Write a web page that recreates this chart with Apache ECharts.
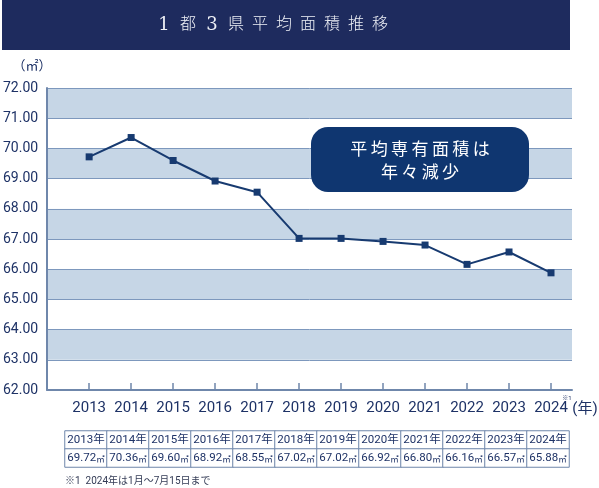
<!DOCTYPE html>
<html><head><meta charset="utf-8">
<script src="https://cdn.jsdelivr.net/npm/echarts@6/dist/echarts.min.js"></script>
<style>html,body{margin:0;padding:0;background:#fff}#c{width:599px;height:488px}</style>
</head><body><div id="c"></div>
<script>
const years = [2013, 2014, 2015, 2016, 2017, 2018, 2019, 2020, 2021, 2022, 2023, 2024];
const areas = [69.72, 70.36, 69.60, 68.92, 68.55, 67.02, 67.02, 66.92, 66.80, 66.16, 66.57, 65.88];
const yMin = 62, yMax = 72, yStep = 1;
const tableHeaders = years.map(y => y + '年');
const tableValues = areas.map(v => v.toFixed(2));
const unitText = '㎡';
const titleChars = ['1', '都', '3', '県', '平', '均', '面', '積', '推', '移'];
const calloutText = ['平均専有面積は', '年々減少'];
const footnote = '※1  2024年は1月～7月15日まで';

const NAVY = '#1e3266';
const LINE = '#173a70';
const AXIS = '#6f87ab';
const FONT = 'Roboto, "Noto Sans CJK JP", sans-serif';
const spaced = s => s.split('').join('\u2009');

const chart = echarts.init(document.getElementById('c'));
const tableData = [];
years.forEach((y, i) => {
  tableData.push([i, 1, 1]);
  tableData.push([i, 0, 0]);
});

const titleGraphics = titleChars.map((c, i) => ({
  type: 'text', x: 164 + 24 * i, y: 25, z: 2,
  style: {
    text: c, fill: '#eef0f6', fontSize: /[0-9]/.test(c) ? 18 : 16, fontWeight: 300,
    fontFamily: '"DejaVu Serif", "Noto Sans CJK JP", serif', align: 'center', verticalAlign: 'middle'
  }
}));

chart.setOption({
  animation: false,
  textStyle: { fontFamily: FONT },
  grid: [
    { left: 47, right: 27, top: 88, bottom: 98 },
    { left: 65, right: 30, top: 431, bottom: 21 }
  ],
  xAxis: [
    {
      type: 'value', gridIndex: 0, min: 2012, max: 2024.5, interval: 1,
      axisLine: { show: true, onZero: false, lineStyle: { color: AXIS, width: 2 } },
      axisTick: { show: true, inside: true, length: 7, customValues: years, lineStyle: { color: AXIS, width: 1.5 } },
      axisLabel: { customValues: years, color: NAVY, fontSize: 15, margin: 11, formatter: v => String(v) },
      splitLine: { show: false }
    },
    { type: 'category', gridIndex: 1, data: tableHeaders, show: false }
  ],
  yAxis: [
    {
      type: 'value', gridIndex: 0, min: yMin, max: yMax, interval: yStep,
      axisLine: { show: true, onZero: false, lineStyle: { color: AXIS, width: 2 } },
      axisTick: { show: false },
      axisLabel: { color: NAVY, fontSize: 14, margin: 9, formatter: v => v.toFixed(2) },
      splitLine: { show: true, lineStyle: { color: '#7d98bd', width: 1 } },
      splitArea: { show: true, areaStyle: { color: ['#ffffff', '#c6d6e6'] } }
    },
    { type: 'category', gridIndex: 1, data: ['value', 'year'], show: false }
  ],
  series: [
    {
      type: 'line', xAxisIndex: 0, yAxisIndex: 0,
      data: years.map((y, i) => [y, areas[i]]),
      symbol: 'rect', symbolSize: 7,
      lineStyle: { color: LINE, width: 2 },
      itemStyle: { color: LINE },
      emphasis: { disabled: true }, z: 5
    },
    {
      type: 'heatmap', xAxisIndex: 1, yAxisIndex: 1,
      data: tableData,
      itemStyle: { color: '#ffffff', borderColor: AXIS, borderWidth: 1 },
      label: {
        show: true, color: NAVY, fontSize: 11.5, fontFamily: FONT,
        formatter: p => p.value[1] === 1 ? tableHeaders[p.value[0]] : '{n|' + tableValues[p.value[0]] + '}{u|' + unitText + '}',
        rich: {
          n: { color: NAVY, fontSize: 11.5, fontFamily: FONT },
          u: { color: NAVY, fontSize: 8.5, fontFamily: FONT, verticalAlign: 'bottom' }
        }
      },
      emphasis: { disabled: true }
    }
  ],
  graphic: [
    { type: 'rect', shape: { x: 2, y: 0, width: 568, height: 50 }, style: { fill: '#1e2b5e' }, silent: true, z: 1 },
    ...titleGraphics,
    { type: 'text', x: 32, y: 67, style: { text: '（㎡）', fill: NAVY, fontSize: 13, fontFamily: FONT, align: 'center', verticalAlign: 'middle' } },
    { type: 'text', x: 585, y: 409, style: { text: '(年)', fill: NAVY, fontSize: 15, fontFamily: FONT, align: 'center', verticalAlign: 'middle' } },
    { type: 'text', x: 567, y: 398, style: { text: '※1', fill: NAVY, fontSize: 6, fontFamily: FONT, align: 'center', verticalAlign: 'middle' } },
    { type: 'text', x: 65, y: 481, style: { text: footnote, fill: '#333b55', fontSize: 10, fontFamily: FONT, align: 'left', verticalAlign: 'middle' } },
    { type: 'rect', shape: { x: 311, y: 127, width: 218, height: 65, r: 17 }, style: { fill: '#0f3670' }, z: 10 },
    { type: 'text', x: 420, y: 160, z: 11, style: { text: calloutText.map(spaced).join('\n'), fill: '#ffffff', fontSize: 17, lineHeight: 23, fontFamily: '"Noto Sans CJK JP", sans-serif', align: 'center', verticalAlign: 'middle' } }
  ]
});
</script>
</body></html>
